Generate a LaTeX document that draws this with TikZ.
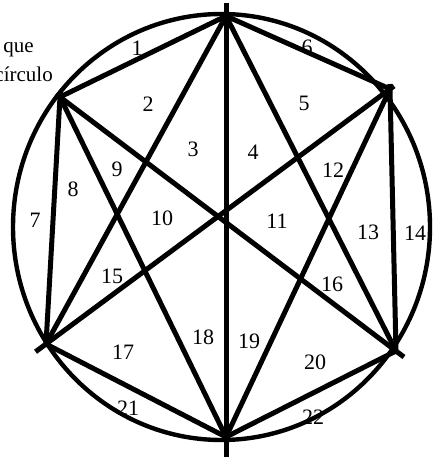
\documentclass[tikz,border=0pt]{standalone}
\usepackage{fontspec}
\setmainfont{Liberation Serif}
\begin{document}
\begin{tikzpicture}[x=1pt, y=-1pt,
    chord/.style={line width=5pt},
    region/.style={font=\fontsize{22}{22}\selectfont, inner sep=0pt}]
    \useasboundingbox (0,0) rectangle (432,457);

    % Points on the circle
    \coordinate (t) at (226,16);
    \coordinate (tl) at (60,97);
    \coordinate (tr) at (390,89);
    \coordinate (bl) at (46,344);
    \coordinate (br) at (396,351);
    \coordinate (b) at (226,437);

    % Region numbers
    \node[region] (r1) at (137,48) {1};
    \node[region] (r2) at (148,104) {2};
    \node[region] (r3) at (193,149) {3};
    \node[region] (r4) at (253,152) {4};
    \node[region] (r5) at (304,103) {5};
    \node[region] (r6) at (307,47) {6};
    \node[region] (r7) at (35,220) {7};
    \node[region] (r8) at (73,189) {8};
    \node[region] (r9) at (117,169) {9};
    \node[region] (r10) at (162,218) {10};
    \node[region] (r11) at (277,221) {11};
    \node[region] (r12) at (333,170) {12};
    \node[region] (r13) at (368,232) {13};
    \node[region] (r14) at (415,233) {14};
    \node[region] (r15) at (112,276) {15};
    \node[region] (r16) at (332,284) {16};
    \node[region] (r17) at (123,352) {17};
    \node[region] (r18) at (203,337) {18};
    \node[region] (r19) at (249,341) {19};
    \node[region] (r20) at (315,362) {20};
    \node[region] (r21) at (128,408) {21};
    \node[region] (r22) at (313,417) {22};

    % Circle
    \draw[line width=4.4pt] (221.5,227) ellipse (208.5pt and 213pt);

    % Chords
    \draw[chord, shorten <=-13pt, shorten >=-20pt] (t) -- (b);
    \draw[chord] (t) -- (tl);
    \draw[chord] (t) -- (tr);
    \draw[chord] (t) -- (bl);
    \draw[chord] (t) -- (br);
    \draw[chord, shorten <=-5pt, shorten >=-3pt] (tl) -- (bl);
    \draw[chord] (tl) -- (b);
    \draw[chord, shorten <=-5pt, shorten >=-10pt] (tl) -- (br);
    \draw[chord, shorten <=-5pt, shorten >=-3pt] (tr) -- (br);
    \draw[chord] (tr) -- (b);
    \draw[chord, shorten <=-5pt, shorten >=-13pt] (tr) -- (bl);
    \draw[chord] (bl) -- (b);
    \draw[chord] (br) -- (b);

    % Text cut off at the left edge
    \node[anchor=east, font=\fontsize{21}{21}\selectfont, inner sep=0pt] (que) at (34,50) {que};
    \node[anchor=east, font=\fontsize{21}{21}\selectfont, inner sep=0pt] (circulo) at (53,74) {círculo};
\end{tikzpicture}
\end{document}
